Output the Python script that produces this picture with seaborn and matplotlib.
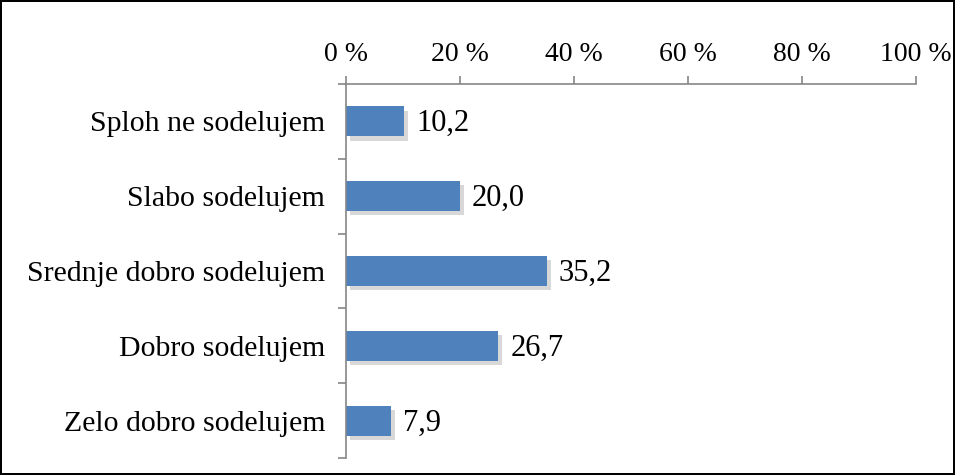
import pandas as pd
import numpy as np
import seaborn as sns
import matplotlib.pyplot as plt
import matplotlib.patheffects as pe

sns.set_style("white")
plt.rcParams['font.family'] = ['Liberation Serif', 'DejaVu Serif']
plt.rcParams['text.color'] = 'black'
plt.rcParams['xtick.color'] = 'black'
plt.rcParams['ytick.color'] = 'black'

# data
categories = ["Sploh ne sodelujem", "Slabo sodelujem", "Srednje dobro sodelujem",
              "Dobro sodelujem", "Zelo dobro sodelujem"]
values = [10.2, 20.0, 35.2, 26.7, 7.9]
value_labels = ["10,2", "20,0", "35,2", "26,7", "7,9"]
x_ticks = [0, 20, 40, 60, 80, 100]
x_tick_labels = ["0 %", "20 %", "40 %", "60 %", "80 %", "100 %"]

df = pd.DataFrame({"cat": categories, "val": values})

fig = plt.figure(figsize=(9.55, 4.75), dpi=100)
fig.patch.set_edgecolor("black")
fig.patch.set_linewidth(1.5)
ax = fig.add_axes([0.3623, 0.0358, 0.5969, 0.7874])

sns.barplot(data=df, x="val", y="cat", orient="h", color="#4F81BD",
            saturation=1, width=0.4, linewidth=0, ax=ax)
for bar in ax.patches:
    bar.set_path_effects([pe.SimplePatchShadow(offset=(3, -3), alpha=0.3, shadow_rgbFace="gray"),
                          pe.Normal()])

for i, (v, lab) in enumerate(zip(values, value_labels)):
    ax.text(v + 2.1, i + 0.03, lab, va="center", ha="left", fontsize=22, color="black")

ax.set_xlim(0, 100)
ax.set_ylim(4.5, -0.5)
ax.xaxis.tick_top()
ax.set_xticks(x_ticks)
ax.set_xticklabels(x_tick_labels, fontsize=20)
ax.set_yticks(range(len(categories)))
ax.set_yticklabels(categories, fontsize=21.5)
ax.set_yticks(np.arange(-0.5, 5, 1), minor=True)
ax.tick_params(axis="y", which="major", length=0, pad=15, left=True)
ax.tick_params(axis="y", which="minor", length=6, color="#868686", width=1.2,
               direction="out", left=True)
ax.tick_params(axis="x", which="major", length=6, color="#868686", width=1.2,
               direction="out", pad=6, top=True, labeltop=True)
ax.set_xlabel("")
ax.set_ylabel("")

for s in ["right", "bottom"]:
    ax.spines[s].set_visible(False)
for s in ["top", "left"]:
    ax.spines[s].set_color("#868686")
    ax.spines[s].set_linewidth(1.2)

fig.savefig("out.png", dpi=100)
